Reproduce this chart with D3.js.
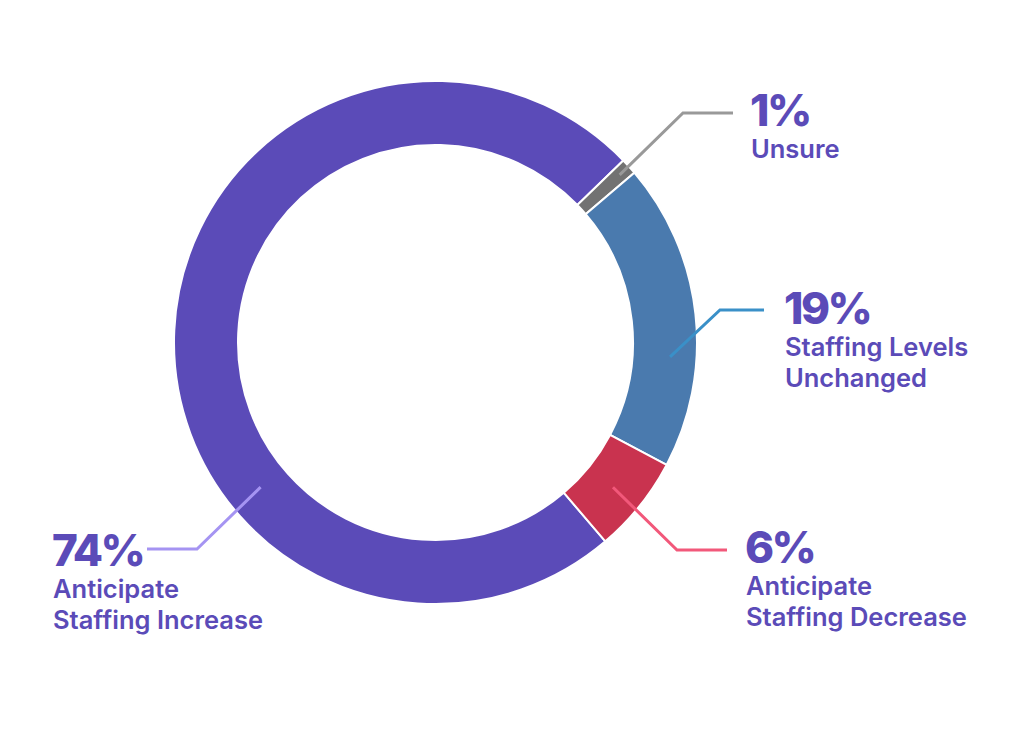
<!DOCTYPE html>
<html>
<head>
<meta charset="utf-8">
<script src="https://cdn.jsdelivr.net/npm/d3@7"></script>
<style>
  html, body { margin: 0; padding: 0; background: #fff; }
  svg { display: block; font-family: Inter, "Noto Sans", sans-serif; }
</style>
</head>
<body>
<script>
'use strict';

// chart data, in drawing order (clockwise from the start angle)
const categories = ["Anticipate Staffing Increase", "Unsure", "Staffing Levels Unchanged", "Anticipate Staffing Decrease"];
const values = [74, 1, 19, 6];
const pctLabels = ["74%", "1%", "19%", "6%"];
const labelLines = [["Anticipate", "Staffing Increase"], ["Unsure"], ["Staffing Levels", "Unchanged"], ["Anticipate", "Staffing Decrease"]];

const sliceColors = ["#5b4bb8", "#727272", "#4a7aae", "#c9334f"];
const leaderColors = ["#a594f2", "#999999", "#3a90c8", "#f2587a"];
const textColor = "#5b4bb8";

(function() {
  const width = 1010, height = 745;
  const cx = 435.5, cy = 342.5;
  const outerR = 261.5, innerR = 197.5;
  const startDeg = 139.5;

  // label placement: x of text, baseline of percent, leader anchor angle/radius, elbow and end of the leader
  const labelLayout = [
    { x: 52,  y: 566, anchorDeg: 230.4, anchorR: 227, elbow: [197, 549], end: [147, 549] },
    { x: 750, y: 126, anchorDeg: 47.7,  anchorR: 249, elbow: [683, 113], end: [733, 113] },
    { x: 784, y: 324, anchorDeg: 93.5,  anchorR: 235, elbow: [720, 310], end: [764, 310] },
    { x: 745, y: 563, anchorDeg: 129.2, anchorR: 229, elbow: [677, 550], end: [727, 550] }
  ];

  const svg = d3.select("body").append("svg")
    .attr("width", width)
    .attr("height", height);

  const rad = (d) => d * Math.PI / 180;

  const pie = d3.pie()
    .sort(null)
    .startAngle(rad(startDeg))
    .endAngle(rad(startDeg) + 2 * Math.PI);

  const arc = d3.arc()
    .innerRadius(innerR)
    .outerRadius(outerR);

  const arcs = pie(values);

  const g = svg.append("g")
    .attr("transform", `translate(${cx},${cy})`);

  g.selectAll("path.slice")
    .data(arcs)
    .enter()
    .append("path")
      .attr("class", "slice")
      .attr("d", arc)
      .attr("fill", (d, i) => sliceColors[i])
      .attr("stroke", "#fff")
      .attr("stroke-width", 2);

  // leader lines
  svg.selectAll("polyline.leader")
    .data(labelLayout)
    .enter()
    .append("polyline")
      .attr("class", "leader")
      .attr("points", (d) => {
        const a = rad(d.anchorDeg);
        const p0 = [cx + d.anchorR * Math.sin(a), cy - d.anchorR * Math.cos(a)];
        return [p0, d.elbow, d.end].map((p) => p.join(",")).join(" ");
      })
      .attr("fill", "none")
      .attr("stroke", (d, i) => leaderColors[i])
      .attr("stroke-width", 3);

  // labels
  const labels = svg.selectAll("g.label")
    .data(labelLayout)
    .enter()
    .append("g")
      .attr("class", "label");

  labels.append("text")
    .attr("x", (d) => d.x)
    .attr("y", (d) => d.y)
    .attr("fill", textColor)
    .style("font-size", "44px")
    .style("font-weight", 800)
    .style("letter-spacing", "-2.5px")
    .text((d, i) => pctLabels[i]);

  labels.each(function(d, i) {
    d3.select(this).selectAll("text.sub")
      .data(labelLines[i])
      .enter()
      .append("text")
        .attr("class", "sub")
        .attr("x", d.x + 1)
        .attr("y", (t, j) => d.y + 32 + j * 30.5)
        .attr("fill", textColor)
        .style("font-size", "25.5px")
        .style("font-weight", 600)
        .text((t) => t);
  });
})();
</script>
</body>
</html>
